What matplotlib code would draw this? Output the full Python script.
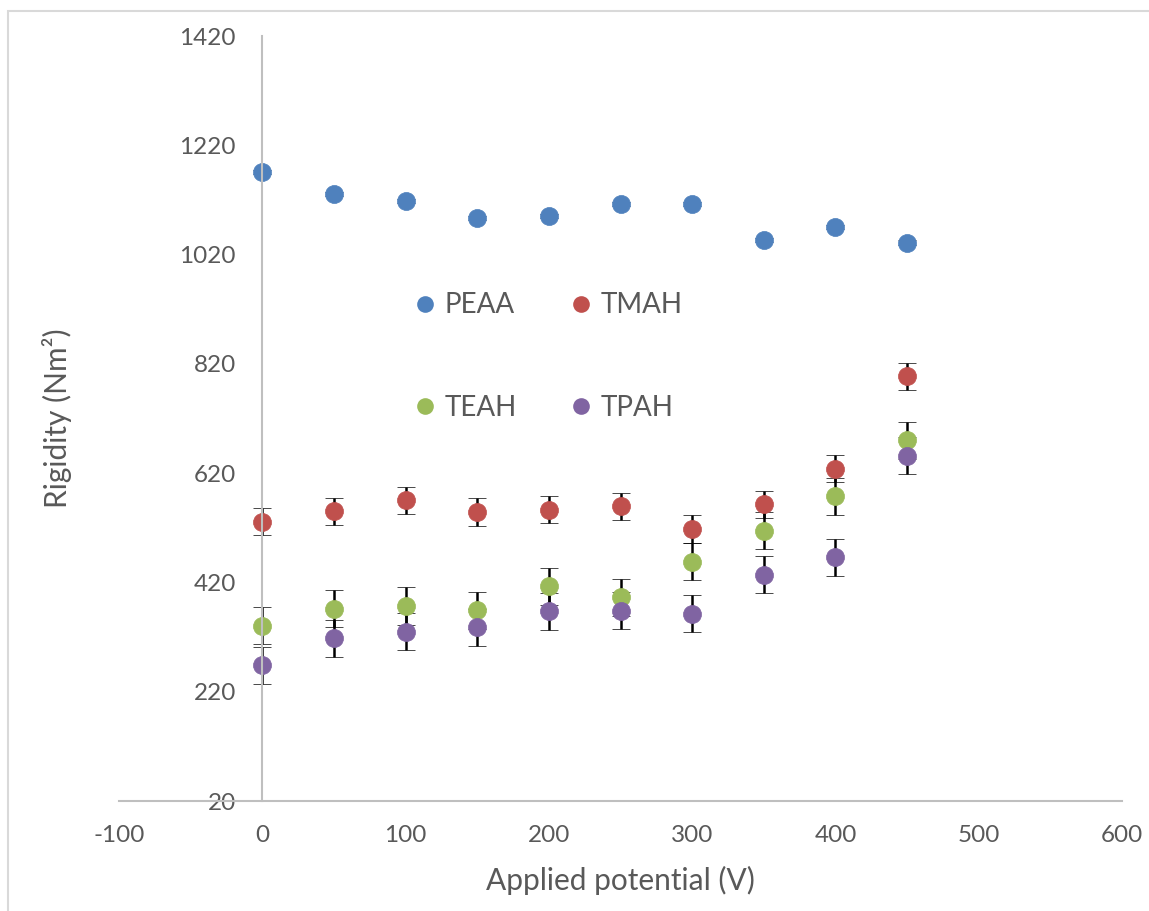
import matplotlib.pyplot as plt
from matplotlib.lines import Line2D
from matplotlib.patches import Rectangle

plt.rcParams['font.family'] = ['Lato', 'DejaVu Sans']
plt.rcParams['axes.unicode_minus'] = False

potential = [0, 50, 100, 150, 200, 250, 300, 350, 400, 450]

peaa = [1171, 1131, 1118, 1087, 1091, 1113, 1113, 1047, 1071, 1042]
tmah = [531, 550, 570, 549, 553, 559, 518, 563, 628, 797]
teah = [341, 372, 377, 369, 413, 393, 458, 515, 578, 680]
tpah = [268, 318, 330, 338, 367, 368, 363, 434, 466, 652]

peaa_err = [4] * 10
tmah_err = [25] * 10
teah_err = [34] * 10
tpah_err = [34] * 10

names = ['PEAA', 'TMAH', 'TEAH', 'TPAH']
colors = ['#4F81BD', '#C0504D', '#9BBB59', '#8064A2']

W, H = 1149, 911
fig = plt.figure(figsize=(W / 100, H / 100), dpi=100)
ax = fig.add_axes([119 / W, 1 - 801 / H, (1122 - 119) / W, (801 - 36) / H])

series = [(peaa, peaa_err), (tmah, tmah_err), (teah, teah_err), (tpah, tpah_err)]
for (vals, errs), name, color in zip(series, names, colors):
    ax.errorbar(potential, vals, yerr=errs, fmt='o', color=color, ecolor='black',
                elinewidth=1.8, capsize=6.5, capthick=1.8, markersize=13,
                markeredgecolor=color, markeredgewidth=0.5, label=name)

ax.set_xlim(-100, 600)
ax.set_ylim(20, 1420)
ax.set_xticks(range(-100, 601, 100))
ax.set_yticks(range(20, 1421, 200))

for side in ['top', 'right']:
    ax.spines[side].set_visible(False)
ax.spines['left'].set_position(('data', 0))
for side in ['left', 'bottom']:
    ax.spines[side].set_color('#BFBFBF')
    ax.spines[side].set_linewidth(1.5)

ax.tick_params(axis='both', length=0, labelcolor='#595959', labelsize=17.5)
ax.tick_params(axis='y', pad=19)
ax.tick_params(axis='x', pad=17)

ax.set_xlabel('Applied potential (V)', fontsize=21.5, color='#595959')
ax.set_ylabel('Rigidity (Nm²)', fontsize=21.5, color='#595959')
ax.xaxis.set_label_coords(0.5, -0.085)
ax.yaxis.set_label_coords(-0.047, 0.5)

# legend fills column-wise, so order gives rows PEAA/TMAH and TEAH/TPAH
order = [0, 2, 1, 3]
handles = [Line2D([], [], marker='o', linestyle='none', color=colors[i], markersize=12,
                  markeredgewidth=0) for i in order]
ax.legend(handles, [names[i] for i in order], ncol=2, loc='center',
          bbox_to_anchor=(0.428, 0.581), frameon=False, fontsize=20,
          labelcolor='#595959', handlelength=0.8, handletextpad=0.3,
          columnspacing=1.9, labelspacing=2.75)

# light chart border (Excel chart area)
fig.patches.append(Rectangle((8 / W, -0.1), 2, 1 - 11 / H + 0.1, transform=fig.transFigure,
                             fill=False, edgecolor='#D9D9D9', linewidth=1.5))

fig.savefig('out.png', dpi=100)
